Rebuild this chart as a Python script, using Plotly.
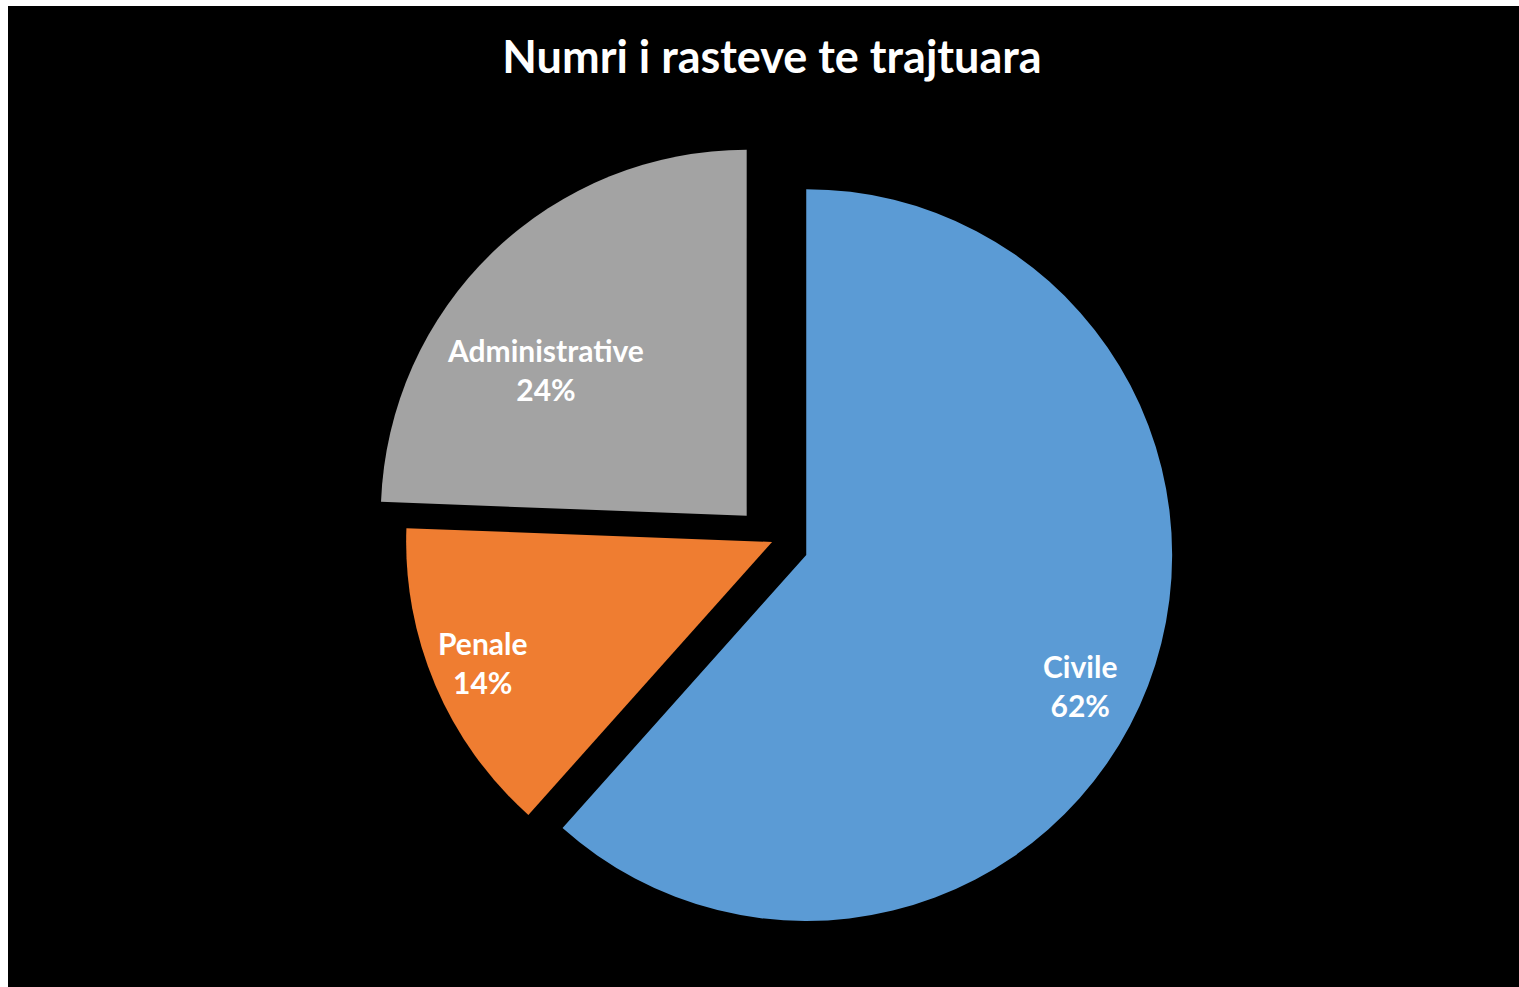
import numpy as np
import plotly.graph_objects as go

labels = ["Civile", "Penale", "Administrative"]
values = [61.6, 14.0, 24.4]
pulls = [0.1, 0.0, 0.1]
colors = ["#5B9BD5", "#EF7D31", "#A3A3A3"]
# label placement (fraction of radius, angular shift in degrees) — styling only
label_rfrac = [0.83, 0.855, 0.68]
label_dang = [4.6, 0.4, -10.0]

W, H = 1519, 987
dom_x = [0.203, 0.803]
dom_y = [0.04914, 0.86474]

fig = go.Figure()
fig.add_trace(go.Pie(
    labels=labels,
    values=values,
    pull=pulls,
    sort=False,
    direction="clockwise",
    rotation=0,
    marker=dict(colors=colors, line=dict(width=0)),
    textinfo="none",
    hoverinfo="label+percent",
    showlegend=False,
    domain=dict(x=dom_x, y=dom_y),
))

# pie geometry as plotly computes it (margins are zero)
maxpull = max(pulls)
r = min(W * (dom_x[1] - dom_x[0]), H * (dom_y[1] - dom_y[0])) / 2 / (1 + maxpull)
cx = W * (dom_x[0] + dom_x[1]) / 2
cy = H * (1 - (dom_y[0] + dom_y[1]) / 2)

tot = float(sum(values))
start = 0.0
for lab, v, p, rf, da in zip(labels, values, pulls, label_rfrac, label_dang):
    frac = v / tot
    mid = np.deg2rad((start + frac / 2) * 360)
    vx = cx + p * r * np.sin(mid)
    vy = cy - p * r * np.cos(mid)
    ang = mid + np.deg2rad(da)
    lx = vx + rf * r * np.sin(ang)
    ly = vy - rf * r * np.cos(ang)
    fig.add_annotation(
        x=lx / W, y=1 - ly / H, xref="paper", yref="paper",
        text=f"<b>{lab}<br>{round(frac * 100):.0f}%</b>",
        showarrow=False, align="center", xanchor="center", yanchor="middle",
        font=dict(family="Lato", size=30, color="white"),
    )
    start += frac

fig.update_layout(
    width=W, height=H,
    margin=dict(l=0, t=0, r=0, b=0),
    paper_bgcolor="black",
    title=dict(text="<b>Numri i rasteve te trajtuara</b>", x=764 / W, xanchor="center",
               y=1 - 51 / H, yanchor="middle", yref="container",
               font=dict(family="Lato", size=45, color="white")),
)

page_js = (
    "document.body.style.overflow='hidden';"
    "document.body.style.marginTop='6px';"
    "document.documentElement.style.background="
    "'linear-gradient(white,white) top left/100% 6px no-repeat,"
    " linear-gradient(to right, white 8px, black 8px)';"
)
fig.write_html("out.html", post_script=page_js)
